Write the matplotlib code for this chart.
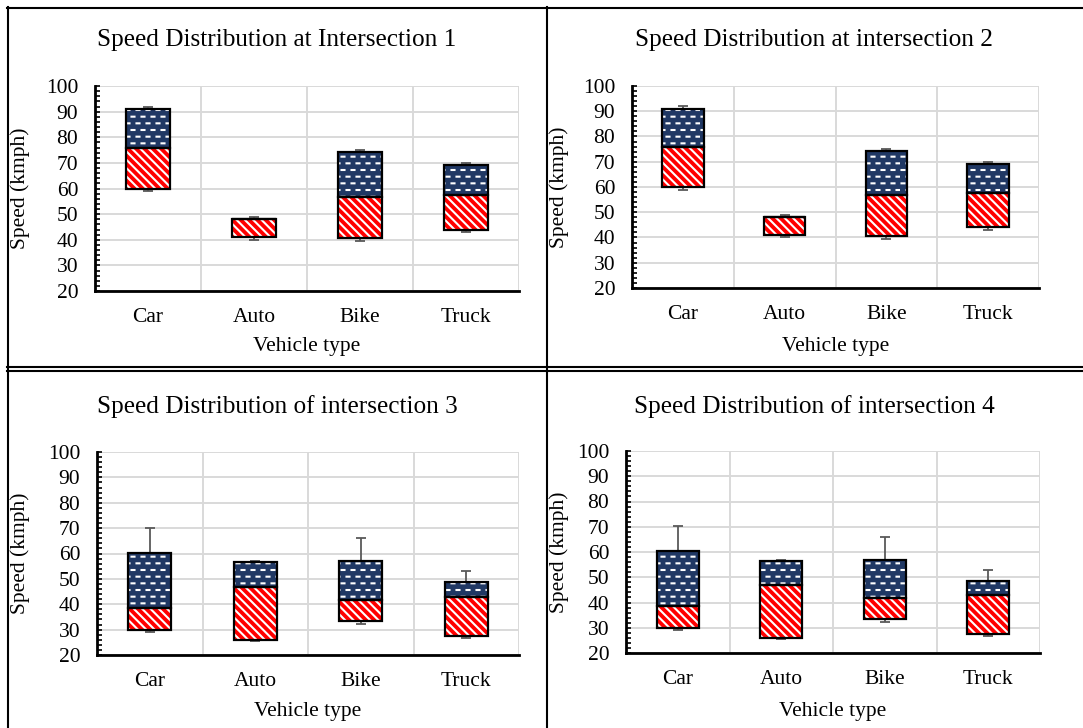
import numpy as np
import matplotlib
matplotlib.use("Agg")
import matplotlib.pyplot as plt
import matplotlib.hatch as mhatch
from matplotlib.lines import Line2D
from matplotlib.path import Path

# ---------------------------------------------------------------- data
VEHICLES = ["Car", "Auto", "Bike", "Truck"]

TITLES = ["Speed Distribution at Intersection 1",
          "Speed Distribution at intersection 2",
          "Speed Distribution of intersection 3",
          "Speed Distribution of intersection 4"]

# intersections 1 & 2
MIN_12 = [59.0, 40.0, 39.5, 43.0]
Q1_12 = [60.0, 41.0, 40.5, 44.0]
MED_12 = [76.0, 48.0, 56.8, 57.5]
Q3_12 = [91.0, 48.0, 74.3, 69.0]
MAX_12 = [92.0, 49.0, 75.2, 70.0]

# intersections 3 & 4
MIN_34 = [29.0, 25.5, 32.3, 26.7]
Q1_34 = [30.0, 26.0, 33.3, 27.5]
MED_34 = [38.7, 46.8, 41.8, 42.9]
Q3_34 = [60.2, 56.6, 57.0, 48.6]
MAX_34 = [70.2, 57.0, 66.0, 53.0]

PANELS = [(MIN_12, Q1_12, MED_12, Q3_12, MAX_12),
          (MIN_12, Q1_12, MED_12, Q3_12, MAX_12),
          (MIN_34, Q1_34, MED_34, Q3_34, MAX_34),
          (MIN_34, Q1_34, MED_34, Q3_34, MAX_34)]


# Excel "dashed horizontal" pattern fill: short staggered white dashes.
# Swapped in for the plain '-' hatch (not used anywhere else here).
class DashedHorizontalHatch(mhatch.HatchPatternBase):
    def __init__(self, hatch, density):
        self.num_rows = int((hatch.count('-') + hatch.count('+')) * density * 1.25)
        self.per_row = 10
        self.num_vertices = self.num_rows * self.per_row * 2

    def set_vertices_and_codes(self, vertices, codes):
        k = 0
        for i in range(self.num_rows):
            y = (i + 0.5) / self.num_rows
            shift = 0.5 if i % 2 else 0.0
            for j in range(self.per_row):
                vertices[k] = ((j + 0.15 + shift) / self.per_row, y)
                vertices[k + 1] = ((j + 0.45 + shift) / self.per_row, y)
                codes[k] = Path.MOVETO
                codes[k + 1] = Path.LINETO
                k += 2


mhatch._hatch_types = [DashedHorizontalHatch if t is mhatch.HorizontalHatch else t
                       for t in mhatch._hatch_types]

plt.rcParams.update({"font.family": "Liberation Serif", "font.size": 15.5,
                     "hatch.linewidth": 1.5})

W, H = 1083, 728
fig = plt.figure(figsize=(W / 100, H / 100), dpi=100)

# axes boxes in pixels: left, right, top, bottom
BOXES = [(95, 519, 86, 291), (632, 1039, 86, 288),
         (97, 519, 452, 655), (626, 1040, 451, 653)]
TITLE_POS = [(277, 40), (814, 40), (277, 407), (814, 407)]
XLABEL_Y = [337, 337, 702, 702]
PANEL_LEFT = [8, 547, 8, 547]

RED, NAVY, GRID, WHISK = "#FF0000", "#203864", "#D9D9D9", "#595959"

for k, (box, data) in enumerate(zip(BOXES, PANELS)):
    l, r, t, b = box
    ax = fig.add_axes([l / W, 1 - b / H, (r - l) / W, (b - t) / H])
    mn, q1, med, q3, mx = [np.array(a) for a in data]
    x = np.arange(1, len(VEHICLES) + 1)
    w = 0.41

    ax.bar(x, med - q1, bottom=q1, width=w, color=RED, hatch="\\\\\\\\",
           edgecolor="white", linewidth=0, zorder=2)
    ax.bar(x, q3 - med, bottom=med, width=w, color=NAVY, hatch="--",
           edgecolor="white", linewidth=0, zorder=2)
    ax.bar(x, med - q1, bottom=q1, width=w, fill=False, edgecolor="black",
           linewidth=1.6, zorder=3)
    ax.bar(x, q3 - med, bottom=med, width=w, fill=False, edgecolor="black",
           linewidth=1.6, zorder=3)

    zeros = np.zeros_like(q3)
    ax.errorbar(x, q3, yerr=[zeros, mx - q3], fmt="none", ecolor=WHISK,
                elinewidth=1.3, capsize=3.5, capthick=1.3, zorder=1)
    ax.errorbar(x, q1, yerr=[q1 - mn, zeros], fmt="none", ecolor=WHISK,
                elinewidth=1.3, capsize=3.5, capthick=1.3, zorder=1)

    ax.set_xlim(0.5, 4.5)
    ax.set_ylim(20, 100)
    ax.set_xticks(x)
    ax.set_xticklabels(VEHICLES)
    ax.set_xticks(x + 0.5, minor=True)
    ax.set_yticks(np.arange(20, 101, 10))
    ax.set_yticks(np.arange(20, 101, 2), minor=True)
    ax.tick_params(axis="x", which="both", length=0, pad=12)
    ax.tick_params(axis="y", which="both", direction="in", length=3.5,
                   width=1.2, pad=12)
    ax.grid(True, axis="y", which="major", color=GRID, linewidth=1.4, zorder=0)
    ax.grid(True, axis="x", which="minor", color=GRID, linewidth=1.4, zorder=0)
    ax.set_axisbelow(True)
    for s in ("top", "right"):
        ax.spines[s].set_visible(False)
    for s in ("left", "bottom"):
        ax.spines[s].set_linewidth(2)

    ax.set_ylabel("Speed (kmph)")
    ax.yaxis.set_label_coords((PANEL_LEFT[k] + 22 - l) / (r - l), 0.5)
    ax.set_xlabel("Vehicle type")
    ax.xaxis.set_label_coords(0.5, -(XLABEL_Y[k] - b) / (b - t))

    tx, ty = TITLE_POS[k]
    fig.text(tx / W, 1 - ty / H, TITLES[k], ha="center", va="center",
             fontsize=18.2)

# table borders around the four charts
def hline(y, x0, x1):
    fig.add_artist(Line2D([x0 / W, x1 / W], [1 - y / H, 1 - y / H],
                          color="black", linewidth=1.5))

def vline(x, y0, y1):
    fig.add_artist(Line2D([x / W, x / W], [1 - y0 / H, 1 - y1 / H],
                          color="black", linewidth=1.5))

hline(8, 7, W)
hline(367, 7, W)
hline(371, 7, W)
vline(8, 7, H)
vline(547, 7, H)

fig.savefig("out.png", dpi=100)
